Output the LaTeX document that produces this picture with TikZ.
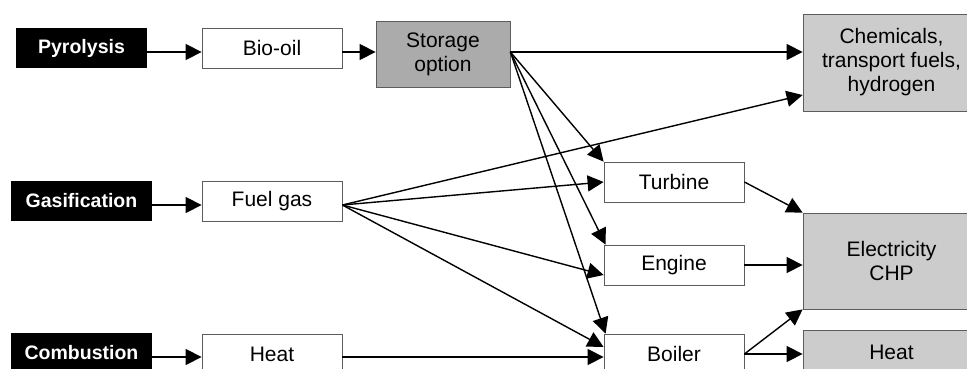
\documentclass[tikz,border=0pt]{standalone}
\usepackage{fontspec}
\setmainfont{Liberation Sans}
\usepackage{xcolor}
\definecolor{storage-grey}{HTML}{ABABAB}
\definecolor{product-grey}{HTML}{CCCCCC}
\definecolor{frame-grey}{HTML}{5C5C5C}
\usetikzlibrary{arrows.meta}

\tikzset{
  process/.style={fill=black, text=white, font=\fontsize{19.5}{22}\selectfont\bfseries,
    minimum width=131pt, minimum height=40pt, inner sep=0pt},
  carrier/.style={draw=frame-grey, fill=white, line width=0.8pt, font=\fontsize{21}{24}\selectfont,
    minimum width=140pt, minimum height=40pt, inner sep=0pt},
  store/.style={carrier, fill=storage-grey, align=center, minimum width=134pt, minimum height=66pt},
  product/.style={carrier, fill=product-grey, align=center, minimum width=177pt},
  flow/.style={-{Triangle[length=16pt,width=16pt]}, line width=1.4pt},
}

\begin{document}
\begin{tikzpicture}[x=1pt, y=-1pt]

    % Frame
    \useasboundingbox (0, 0) rectangle (967, 369);
    \clip (0, 0) rectangle (967, 369);

    % Processes
    \node[process] (pyro) at (81.5, 48) {Pyrolysis};
    \node[process, minimum width=141pt] (gasif) at (81.5, 201) {Gasification};
    \node[process, minimum width=141pt] (combust) at (81.5, 353) {Combustion};

    % Carriers
    \node[carrier] (biooil) at (272, 48) {Bio-oil};
    \node[carrier] (fuelgas) at (272, 201) {Fuel gas};
    \node[carrier] (heatin) at (272, 354) {Heat};
    \node[store] (storage) at (443, 54) {Storage\\option};

    % Converters
    \node[carrier] (turbine) at (674, 182) {Turbine};
    \node[carrier] (engine) at (674, 265) {Engine};
    \node[carrier] (boiler) at (674, 354) {Boiler};

    % Products
    \node[product, minimum height=97pt] (chem) at (891.5, 62.5) {Chemicals,\\transport fuels,\\hydrogen};
    \node[product, minimum height=96pt] (power) at (891.5, 261) {Electricity\\CHP};
    \node[product, minimum height=44pt] (heatout) at (891.5, 352) {Heat};

    % Top row
    \draw[flow] ([yshift=-4pt]pyro.east) -- ([yshift=-4pt]biooil.west);
    \draw[flow] ([yshift=-4pt]biooil.east) -- ([yshift=2pt]storage.west);
    \draw[flow] ([yshift=2pt]storage.east) -- ([yshift=10.5pt]chem.west);
    \draw[flow] ([yshift=2pt]storage.east) -- (turbine.north west);
    \draw[flow] ([yshift=2pt]storage.east) -- ([xshift=2pt]engine.north west);
    \draw[flow] ([yshift=2pt]storage.east) -- ([xshift=2pt]boiler.north west);

    % Middle row
    \draw[flow] ([yshift=-4pt]gasif.east) -- ([yshift=-4pt]fuelgas.west);
    \draw[flow] ([yshift=-4pt]fuelgas.east) -- ([yshift=-32.5pt]chem.west);
    \draw[flow] ([yshift=-4pt]fuelgas.east) -- (turbine.west);
    \draw[flow] ([yshift=-4pt]fuelgas.east) -- ([yshift=-10pt]engine.west);
    \draw[flow] ([yshift=-4pt]fuelgas.east) -- ([yshift=7pt]boiler.west);

    % Bottom row
    \draw[flow] ([yshift=-4pt]combust.east) -- ([yshift=-3pt]heatin.west);
    \draw[flow] ([yshift=-3pt]heatin.east) -- ([yshift=-3pt]boiler.west);

    % To products
    \draw[flow] (turbine.east) -- (power.north west);
    \draw[flow] (engine.east) -- (power.west |- engine.east);
    \draw[flow] (boiler.east) -- (power.south west);
    \draw[flow] (boiler.east) -- (heatout.west |- boiler.east);

\end{tikzpicture}
\end{document}
